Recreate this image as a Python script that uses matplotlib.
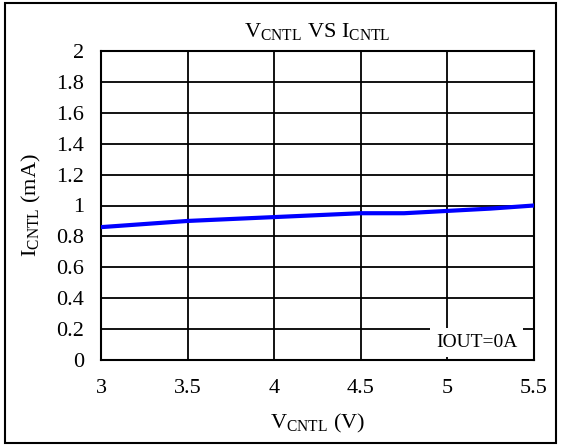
import numpy as np
import matplotlib.pyplot as plt
from matplotlib.patches import Rectangle

plt.rcParams['font.family'] = 'Liberation Serif'
plt.rcParams['mathtext.fontset'] = 'custom'
plt.rcParams['mathtext.rm'] = 'Liberation Serif'

vcntl = [3.0, 3.5, 4.0, 4.5, 4.75, 5.0, 5.25, 5.5]
icntl = [0.86, 0.90, 0.925, 0.95, 0.95, 0.965, 0.98, 1.0]
xticks = [3, 3.5, 4, 4.5, 5, 5.5]
yticks = [0, 0.2, 0.4, 0.6, 0.8, 1, 1.2, 1.4, 1.6, 1.8, 2]

fig = plt.figure(figsize=(5.61, 4.46), dpi=100)
ax = fig.add_axes([101/561, 1-360/446, (534-101)/561, (360-51)/446])

ax.plot(vcntl, icntl, color='#0000ff', lw=3, zorder=3)

ax.set_xlim(3, 5.5)
ax.set_ylim(0, 2)
ax.set_xticks(xticks)
ax.set_xticklabels([f"{t:g}" for t in xticks])
ax.set_yticks(yticks)
ax.set_yticklabels([f"{t:g}" for t in yticks])
ax.tick_params(labelsize=16, length=0)
ax.tick_params(axis='x', pad=14)
ax.tick_params(axis='y', pad=12)
ax.grid(True, color='black', lw=1.3)
for s in ax.spines.values():
    s.set_linewidth(1.5)

ax.set_title(r"V$_{\mathrm{CNTL}}$ VS I$_{\mathrm{CNTL}}$", fontsize=16, pad=10)
ax.set_xlabel(r"V$_{\mathrm{CNTL}}$ (V)", fontsize=16, labelpad=10)
ax.set_ylabel(r"I$_{\mathrm{CNTL}}$ (mA)", fontsize=16, labelpad=10)

ax.text(5.17, 0.115, "IOUT=0A", fontsize=14, ha='center', va='center', zorder=4,
        bbox=dict(facecolor='white', edgecolor='none', boxstyle='square,pad=0.3'))

fig.patches.append(Rectangle((5/561, 3/446), 551/561, 440/446, transform=fig.transFigure,
                             fill=False, edgecolor='black', lw=1.5))

fig.savefig("out.png", dpi=100)
